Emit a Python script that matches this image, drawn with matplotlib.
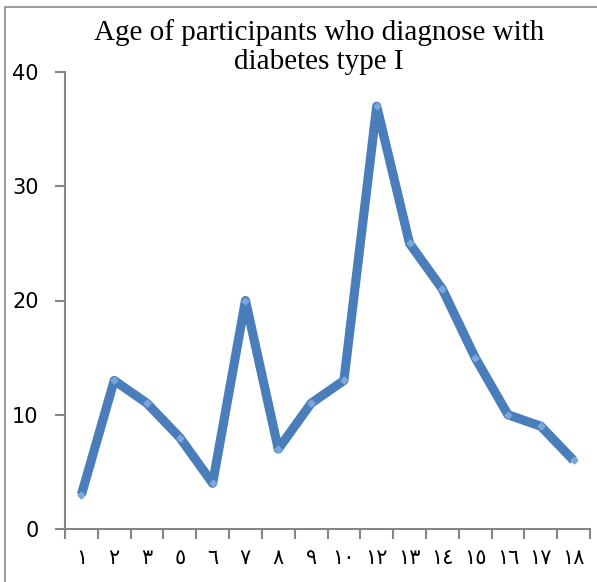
import matplotlib
matplotlib.use("Agg")
import matplotlib.pyplot as plt
from matplotlib.patches import Rectangle

categories = ["١", "٢", "٣", "٥", "٦", "٧", "٨", "٩", "١٠", "١٢", "١٣", "١٤", "١٥", "١٦", "١٧", "١٨"]
values = [3, 13, 11, 8, 4, 20, 7, 11, 13, 37, 25, 21, 15, 10, 9, 6]
yticks = [0, 10, 20, 30, 40]
title = "Age of participants who diagnose with\ndiabetes type I"

fig = plt.figure(figsize=(5.97, 5.82), dpi=100)
fig.patches.append(Rectangle((5 / 597, -0.1), 1.2, (582 - 7) / 582 + 0.1,
                             transform=fig.transFigure, fill=False,
                             edgecolor="#8c8c8c", linewidth=1.2))
ax = fig.add_axes([65 / 597, 53 / 582, 525 / 597, 457 / 582])

n = len(categories)
xs = [i + 0.5 for i in range(n)]
ax.plot(xs, values, color="#4a7ebb", linewidth=6.6, solid_joinstyle="round",
        solid_capstyle="butt",
        marker="D", markersize=3.5, markerfacecolor="#7aa6dc", markeredgecolor="#7aa6dc",
        zorder=3)

ax.set_xlim(0, n)
ax.set_ylim(0, 40)
ax.set_yticks(yticks)
ax.set_yticklabels([str(v) for v in yticks], fontsize=15, family="DejaVu Sans")
ax.set_xticks(range(n + 1))
ax.set_xticklabels([""] * (n + 1))
ax.set_xticks(xs, minor=True)
ax.set_xticklabels(categories, minor=True, fontsize=15, family="DejaVu Sans")
ax.tick_params(axis="x", which="minor", length=0, pad=14)
ax.tick_params(axis="x", which="major", length=7, width=1.5, color="#868686", direction="out")
ax.tick_params(axis="y", length=7, width=1.5, color="#868686", direction="out", pad=12)

for s in ["top", "right"]:
    ax.spines[s].set_visible(False)
for s in ["left", "bottom"]:
    ax.spines[s].set_color("#868686")
    ax.spines[s].set_linewidth(1.5)

fig.text(319 / 597, 1 - 47 / 582, title, ha="center", va="center",
         fontsize=21, family="Liberation Serif", linespacing=1.15)

fig.savefig("out.png", dpi=100)
